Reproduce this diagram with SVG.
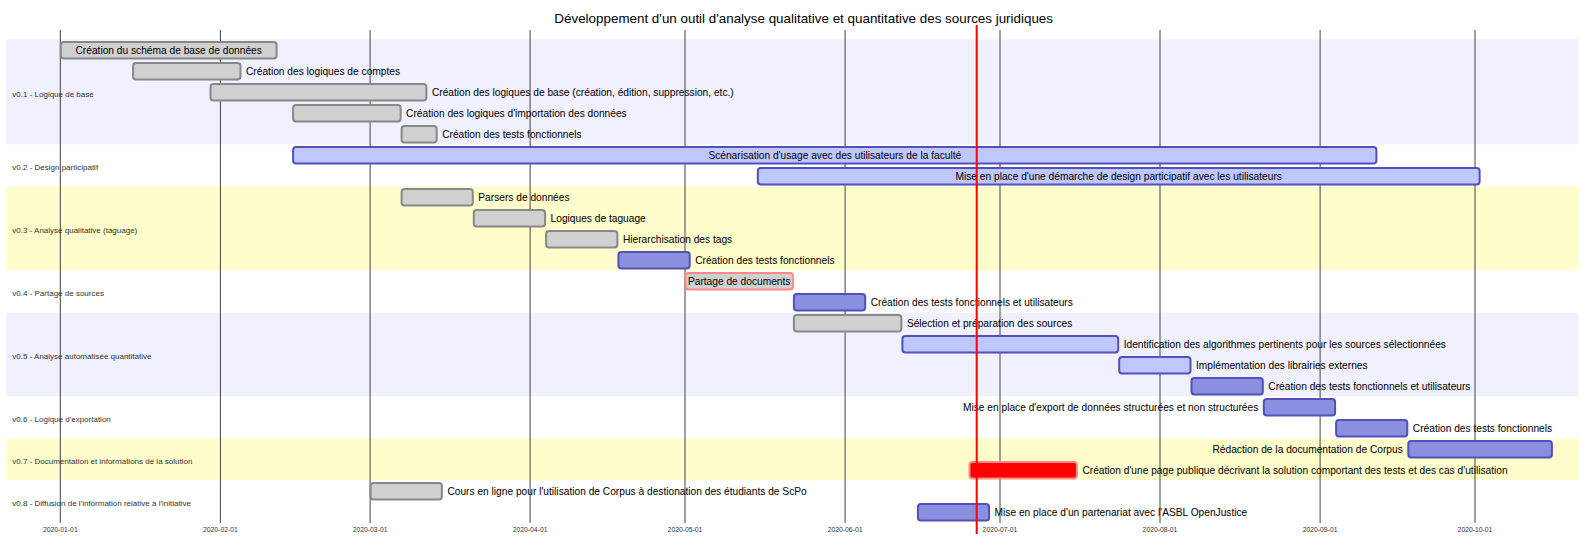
<svg xmlns="http://www.w3.org/2000/svg" width="1593" height="559" viewBox="0 0 1593 559">
<style>
text{font-family:"Liberation Sans",Arial,sans-serif;}
.title{font-size:13.4px;fill:#000;text-anchor:middle;}
.sec0{fill:#f0f0ff;}
.sec1{fill:#ffffff;}
.sec2{fill:#fffdcc;}
.secLabel{font-size:8px;fill:#333;}
.grid{stroke:#444;stroke-width:1;}
.tick{font-size:6.8px;fill:#333;text-anchor:middle;}
.bar{stroke-width:2;}
.done{fill:#d0d0d0;stroke:#888;}
.active{fill:#bfc7ff;stroke:#534fbc;}
.task{fill:#8a90dd;stroke:#534fbc;}
.crit{fill:#ff0000;stroke:#ff8888;}
.doneCrit{fill:#d0d0d0;stroke:#ff8888;}
.tt{font-size:10.2px;fill:#000;}
.in{text-anchor:middle;}
.right{text-anchor:start;}
.left{text-anchor:end;}
.today{stroke:#ff0000;stroke-width:2;}
</style>
<rect width="1593" height="559" fill="#ffffff"/>
<g id="sections">
<rect class="sec0" x="6" y="39.5" width="1572.5" height="105"/>
<rect class="sec1" x="6" y="144.5" width="1572.5" height="42"/>
<rect class="sec2" x="6" y="186.5" width="1572.5" height="84"/>
<rect class="sec1" x="6" y="270.5" width="1572.5" height="42"/>
<rect class="sec0" x="6" y="312.5" width="1572.5" height="84"/>
<rect class="sec1" x="6" y="396.5" width="1572.5" height="42"/>
<rect class="sec2" x="6" y="438.5" width="1572.5" height="42"/>
<rect class="sec1" x="6" y="480.5" width="1572.5" height="42"/>
</g>
<g id="grid">
<line class="grid" x1="60.3" y1="30" x2="60.3" y2="523"/>
<line class="grid" x1="220.4" y1="30" x2="220.4" y2="523"/>
<line class="grid" x1="370.1" y1="30" x2="370.1" y2="523"/>
<line class="grid" x1="530.1" y1="30" x2="530.1" y2="523"/>
<line class="grid" x1="685" y1="30" x2="685" y2="523"/>
<line class="grid" x1="845.1" y1="30" x2="845.1" y2="523"/>
<line class="grid" x1="1000" y1="30" x2="1000" y2="523"/>
<line class="grid" x1="1160" y1="30" x2="1160" y2="523"/>
<line class="grid" x1="1320.1" y1="30" x2="1320.1" y2="523"/>
<line class="grid" x1="1475" y1="30" x2="1475" y2="523"/>
<text class="tick" x="60.3" y="532.3">2020-01-01</text>
<text class="tick" x="220.4" y="532.3">2020-02-01</text>
<text class="tick" x="370.1" y="532.3">2020-03-01</text>
<text class="tick" x="530.1" y="532.3">2020-04-01</text>
<text class="tick" x="685" y="532.3">2020-05-01</text>
<text class="tick" x="845.1" y="532.3">2020-06-01</text>
<text class="tick" x="1000" y="532.3">2020-07-01</text>
<text class="tick" x="1160" y="532.3">2020-08-01</text>
<text class="tick" x="1320.1" y="532.3">2020-09-01</text>
<text class="tick" x="1475" y="532.3">2020-10-01</text>
</g>
<g id="section-labels">
<text class="secLabel" x="12.3" y="96.5">v0.1 - Logique de base</text>
<text class="secLabel" x="12.3" y="170">v0.2 - Design participatif</text>
<text class="secLabel" x="12.3" y="233">v0.3 - Analyse qualitative (taguage)</text>
<text class="secLabel" x="12.3" y="296">v0.4 - Partage de sources</text>
<text class="secLabel" x="12.3" y="359">v0.5 - Analyse automatisée quantitative</text>
<text class="secLabel" x="12.3" y="422">v0.6 - Logique d'exportation</text>
<text class="secLabel" x="12.3" y="464">v0.7 - Documentation et informations de la solution</text>
<text class="secLabel" x="12.3" y="506">v0.8 - Diffusion de l'information relative à l'initiative</text>
</g>
<g id="task-0"><rect class="bar done" x="60.8" y="42" width="215.8" height="16.4" rx="3"/><text class="tt in" x="168.7" y="53.7">Création du schéma de base de données</text></g>
<g id="task-1"><rect class="bar done" x="133.1" y="63" width="107.4" height="16.4" rx="3"/><text class="tt right" x="246" y="74.7">Création des logiques de comptes</text></g>
<g id="task-2"><rect class="bar done" x="210.5" y="84" width="215.9" height="16.4" rx="3"/><text class="tt right" x="431.9" y="95.7">Création des logiques de base (création, édition, suppression, etc.)</text></g>
<g id="task-3"><rect class="bar done" x="293.1" y="105" width="107.5" height="16.4" rx="3"/><text class="tt right" x="406.1" y="116.7">Création des logiques d'importation des données</text></g>
<g id="task-4"><rect class="bar done" x="401.6" y="126" width="35.1" height="16.4" rx="3"/><text class="tt right" x="442.2" y="137.7">Création des tests fonctionnels</text></g>
<g id="task-5"><rect class="bar active" x="293.1" y="147" width="1083.3" height="16.4" rx="3"/><text class="tt in" x="834.8" y="158.7">Scénarisation d'usage avec des utilisateurs de la faculté</text></g>
<g id="task-6"><rect class="bar active" x="757.8" y="168" width="721.8" height="16.4" rx="3"/><text class="tt in" x="1118.7" y="179.7">Mise en place d'une démarche de design participatif avec les utilisateurs</text></g>
<g id="task-7"><rect class="bar done" x="401.6" y="189" width="71.2" height="16.4" rx="3"/><text class="tt right" x="478.3" y="200.7">Parsers de données</text></g>
<g id="task-8"><rect class="bar done" x="473.8" y="210" width="71.3" height="16.4" rx="3"/><text class="tt right" x="550.6" y="221.7">Logiques de taguage</text></g>
<g id="task-9"><rect class="bar done" x="546.1" y="231" width="71.3" height="16.4" rx="3"/><text class="tt right" x="622.9" y="242.7">Hierarchisation des tags</text></g>
<g id="task-10"><rect class="bar task" x="618.4" y="252" width="71.3" height="16.4" rx="3"/><text class="tt right" x="695.2" y="263.7">Création des tests fonctionnels</text></g>
<g id="task-11"><rect class="bar doneCrit" x="685.5" y="273" width="107.4" height="16.4" rx="3"/><text class="tt in" x="739.2" y="284.7">Partage de documents</text></g>
<g id="task-12"><rect class="bar task" x="793.9" y="294" width="71.3" height="16.4" rx="3"/><text class="tt right" x="870.7" y="305.7">Création des tests fonctionnels et utilisateurs</text></g>
<g id="task-13"><rect class="bar done" x="793.9" y="315" width="107.5" height="16.4" rx="3"/><text class="tt right" x="906.9" y="326.7">Sélection et préparation des sources</text></g>
<g id="task-14"><rect class="bar active" x="902.4" y="336" width="215.8" height="16.4" rx="3"/><text class="tt right" x="1123.7" y="347.7">Identification des algorithmes pertinents pour les sources sélectionnées</text></g>
<g id="task-15"><rect class="bar active" x="1119.2" y="357" width="71.3" height="16.4" rx="3"/><text class="tt right" x="1196" y="368.7">Implémentation des librairies externes</text></g>
<g id="task-16"><rect class="bar task" x="1191.5" y="378" width="71.3" height="16.4" rx="3"/><text class="tt right" x="1268.3" y="389.7">Création des tests fonctionnels et utilisateurs</text></g>
<g id="task-17"><rect class="bar task" x="1263.8" y="399" width="71.3" height="16.4" rx="3"/><text class="tt left" x="1258.3" y="410.7">Mise en place d'export de données structurées et non structurées</text></g>
<g id="task-18"><rect class="bar task" x="1336.1" y="420" width="71.2" height="16.4" rx="3"/><text class="tt right" x="1412.8" y="431.7">Création des tests fonctionnels</text></g>
<g id="task-19"><rect class="bar task" x="1408.3" y="441" width="143.6" height="16.4" rx="3"/><text class="tt left" x="1402.8" y="452.7">Rédaction de la documentation de Corpus</text></g>
<g id="task-20"><rect class="bar crit" x="969.5" y="462" width="107.4" height="16.4" rx="3"/><text class="tt right" x="1082.4" y="473.7">Création d'une page publique décrivant la solution comportant des tests et des cas d'utilisation</text></g>
<g id="task-21"><rect class="bar done" x="370.6" y="483" width="71.3" height="16.4" rx="3"/><text class="tt right" x="447.4" y="494.7">Cours en ligne pour l'utilisation de Corpus à destionation des étudiants de ScPo</text></g>
<g id="task-22"><rect class="bar task" x="917.9" y="504" width="71.2" height="16.4" rx="3"/><text class="tt right" x="994.6" y="515.7">Mise en place d'un partenariat avec l'ASBL OpenJustice</text></g>
<g id="connectors"/>
<g id="today"><line class="today" x1="976.7" y1="25" x2="976.7" y2="534"/></g>
<text class="title" x="803.7" y="22.5">Développement d'un outil d'analyse qualitative et quantitative des sources juridiques</text>
</svg>
